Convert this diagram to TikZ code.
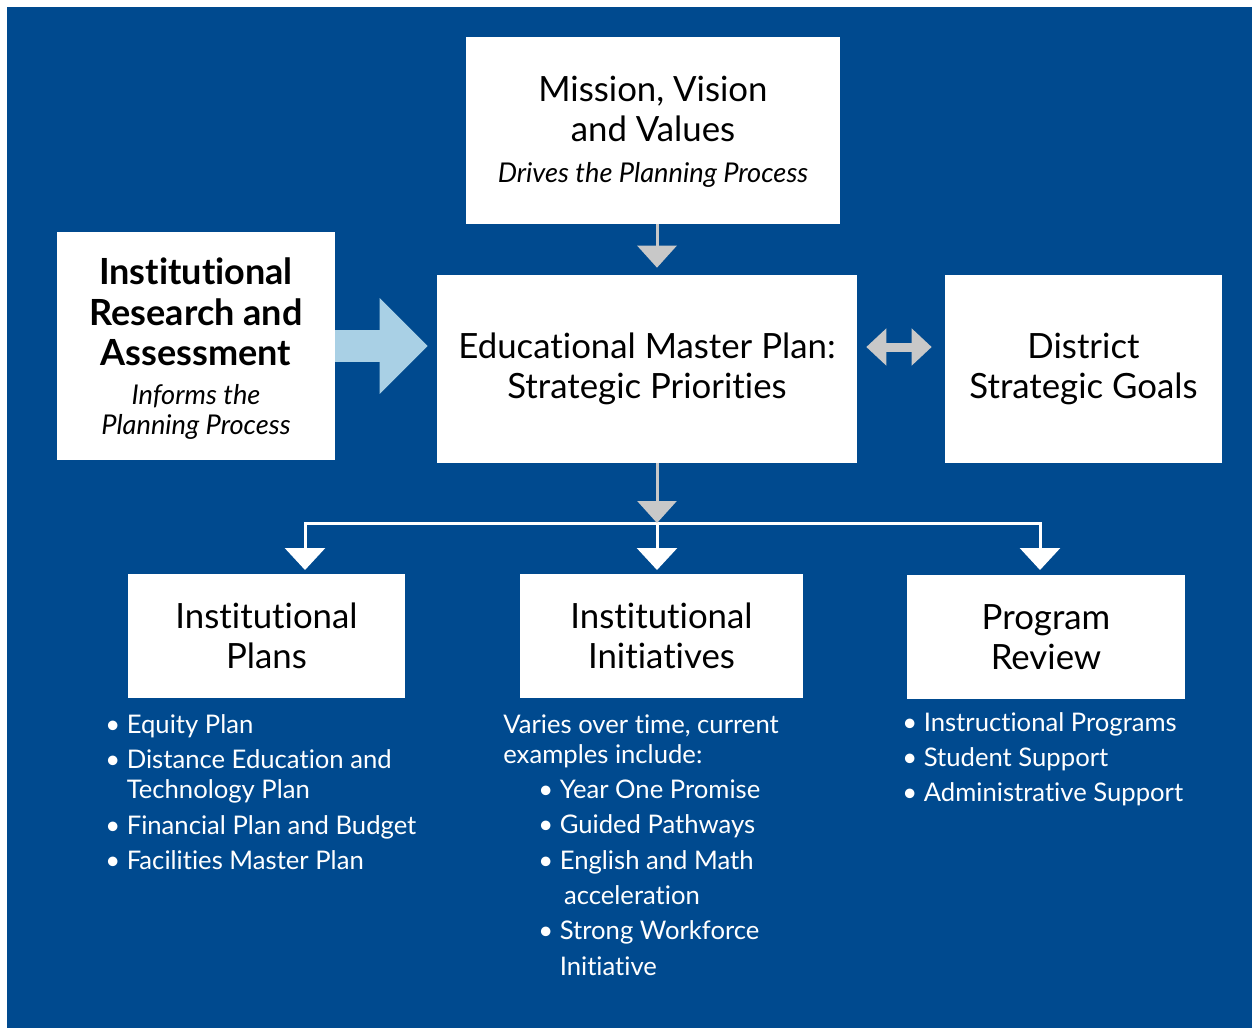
\documentclass[tikz,border=0pt]{standalone}
\usepackage{fontspec}
\setmainfont{Lato}[Ligatures=NoCommon]
\usetikzlibrary{arrows.meta}
\definecolor{planblue}{HTML}{004A8F}
\definecolor{arrowblue}{HTML}{A9D0E5}
\definecolor{arrowgray}{HTML}{C8C8C8}

\begin{document}
\begin{tikzpicture}[x=0.02cm, y=-0.02cm,
  box/.style={fill=white, inner sep=0pt, align=center, font=\fontsize{19.8}{23}\selectfont},
  bul/.style={text=white, anchor=north west, inner sep=0pt, align=left, font=\fontsize{14.6}{20.1}\selectfont},
  grayarrow/.style={draw=arrowgray, line width=0.06cm, -{Triangle[width=0.78cm,length=0.44cm]}},
  whitearrow/.style={draw=white, line width=0.06cm, -{Triangle[width=0.8cm,length=0.44cm]}}]
% Page and background (units are pixels of the reference)
\useasboundingbox (0,0) rectangle (1252,1028);
\fill[white] (0,0) rectangle (1252,1028);
\fill[planblue] (7,7) rectangle (1252,1028);

% Boxes
\node[box, minimum width=7.48cm, minimum height=3.74cm] (mission) at (653,130.5)
  {\rule{0pt}{16pt}Mission, Vision\\and Values\\[0.5pt]{\itshape\fontsize{15.5}{17}\selectfont Drives the Planning Process}};
\node[box, minimum width=5.56cm, minimum height=4.56cm] (research) at (196,346)
  {\bfseries\fontsize{20.5}{23}\selectfont \rule{0pt}{18pt}Institutional\\\bfseries\fontsize{20.5}{23}\selectfont Research and\\
   \bfseries\fontsize{20.5}{23}\selectfont Assessment\\[-1pt]
   {\itshape\fontsize{15.5}{17}\selectfont Informs the}\\[-6pt]{\itshape\fontsize{15.5}{17}\selectfont Planning Process}};
\node[box, minimum width=8.4cm, minimum height=3.76cm] (emp) at (647,369)
  {Educational Master Plan:\\Strategic Priorities};
\node[box, minimum width=5.54cm, minimum height=3.76cm] (district) at (1083.5,369)
  {District\\Strategic Goals};
\node[box, minimum width=5.54cm, minimum height=2.48cm] (plans) at (266.5,636)
  {Institutional\\Plans};
\node[box, minimum width=5.66cm, minimum height=2.48cm] (initiatives) at (661.5,636)
  {Institutional\\Initiatives};
\node[box, minimum width=5.56cm, minimum height=2.48cm] (review) at (1046,637)
  {Program\\Review};

% Connectors
\coordinate (axis) at (657,0);
\coordinate (split) at (657,523);
\coordinate (toplans) at (305,570);
\coordinate (toinit) at (657,570);
\coordinate (toreview) at (1040,570);
\coordinate (dbl) at (0,347);
\draw[grayarrow, shorten >=0.14cm] (mission.south -| axis) -- (emp.north -| axis);
\draw[arrowblue, line width=0.64cm, -{Triangle[width=1.86cm,length=0.96cm]}, shorten >=0.18cm]
  (research.east) -- (research.east -| emp.west);
\draw[arrowgray, line width=0.18cm, {Triangle[width=0.72cm,length=0.4cm]}-{Triangle[width=0.72cm,length=0.4cm]},
  shorten <=0.18cm, shorten >=0.26cm] (emp.east |- dbl) -- (district.west |- dbl);
\draw[whitearrow] (split) -| (toplans);
\draw[whitearrow] (split) -- (toinit);
\draw[whitearrow] (split) -| (toreview);
\draw[grayarrow] (emp.south -| split) -- (split);

% Lists under the boxes
\node[bul] (planslist) at (105,714)
  {\textbullet\ Equity Plan\\
   \textbullet\ Distance Education and\\[-2.9pt]
   \hphantom{\textbullet\ }Technology Plan\\
   \textbullet\ Financial Plan and Budget\\
   \textbullet\ Facilities Master Plan};
\node[bul] (initlist) at (503,714)
  {Varies over time, current\\[-2.9pt]
   examples include:\\
   \hspace{0.7cm}\textbullet\ Year One Promise\\
   \hspace{0.7cm}\textbullet\ Guided Pathways\\
   \hspace{0.7cm}\textbullet\ English and Math\\
   \hspace{0.7cm}\hphantom{\textbullet\ }\,acceleration\\
   \hspace{0.7cm}\textbullet\ Strong Workforce\\
   \hspace{0.7cm}\hphantom{\textbullet\ }Initiative};
\node[bul] (reviewlist) at (902,712)
  {\textbullet\ Instructional Programs\\
   \textbullet\ Student Support\\
   \textbullet\ Administrative Support};
\end{tikzpicture}
\end{document}
